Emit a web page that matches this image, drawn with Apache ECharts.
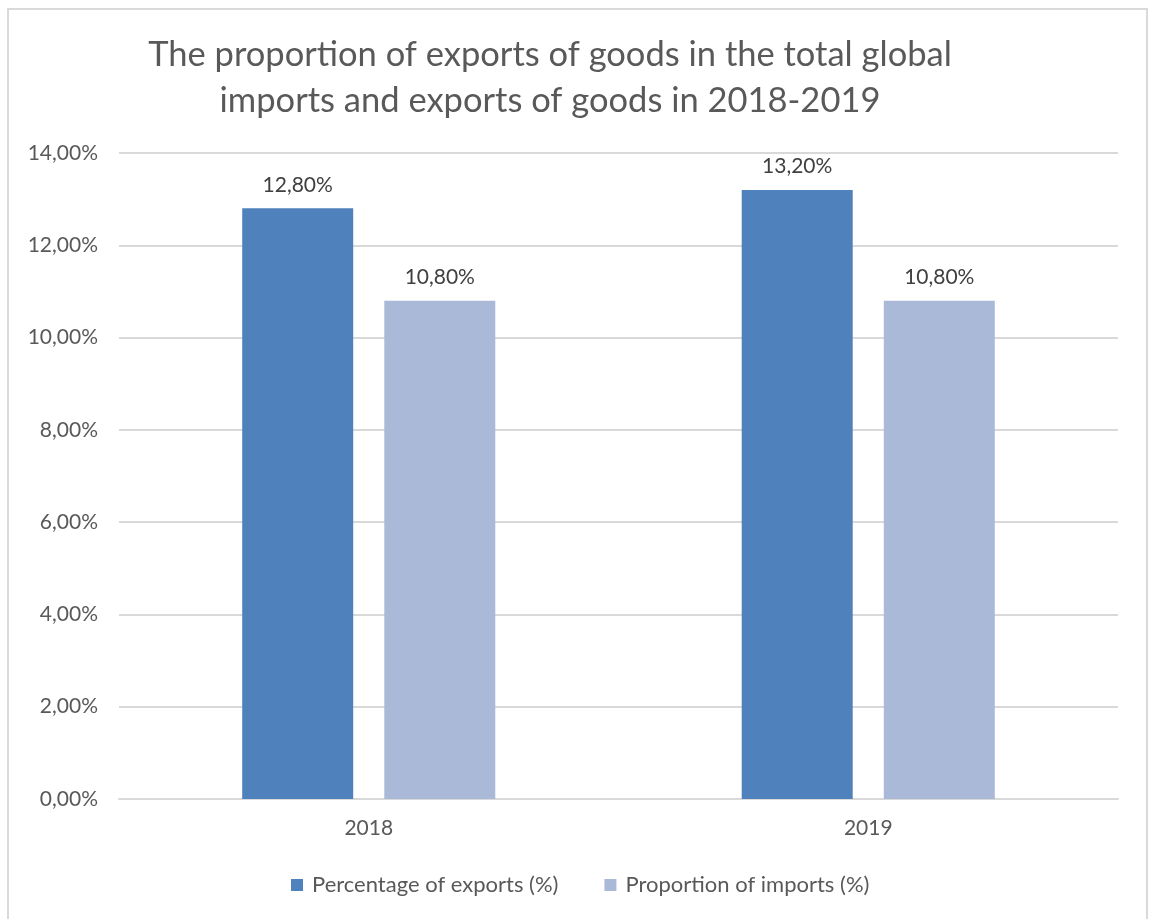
<!DOCTYPE html>
<html><head><meta charset="utf-8">
<script src="https://cdn.jsdelivr.net/npm/echarts@6/dist/echarts.min.js"></script>
<style>html,body{margin:0;padding:0;background:#fff}#c{width:1149px;height:919px}</style>
</head><body><div id="c"></div>
<script>
const categories = ['2018', '2019'];
const exportsPct = [12.8, 13.2];
const importsPct = [10.8, 10.8];
const seriesNames = ['Percentage of exports (%)', 'Proportion of imports (%)'];
const titleText = 'The proportion of exports of goods in the total global\nimports and exports of goods in 2018-2019';

const FONT = 'Lato, "Open Sans", sans-serif';
const fmt = v => v.toFixed(2).replace('.', ',') + '%';
const chart = echarts.init(document.getElementById('c'));
chart.setOption({
  animation: false,
  textStyle: { fontFamily: FONT },
  graphic: [{ type: 'rect', shape: { x: 8, y: 9, width: 1139, height: 920 }, style: { fill: 'none', stroke: '#d9d9d9', lineWidth: 2 }, silent: true }],
  title: { text: titleText, left: 545, top: 27, textAlign: 'center',
    textStyle: { fontFamily: FONT, fontSize: 34.5, fontWeight: 'normal', color: '#595959', lineHeight: 46 } },
  legend: { top: 869, left: 286, itemWidth: 12, itemHeight: 12, itemGap: 46, icon: 'rect',
    textStyle: { fontFamily: FONT, fontSize: 22, color: '#595959', padding: [0, 0, 0, 4] } },
  grid: { left: 119, right: 31, top: 153, bottom: 120 },
  xAxis: { type: 'category', data: categories,
    axisLine: { lineStyle: { color: '#d9d9d9', width: 2 } }, axisTick: { show: false },
    axisLabel: { fontSize: 21, color: '#595959', margin: 19, fontFamily: FONT } },
  yAxis: { type: 'value', min: 0, max: 14, interval: 2,
    axisLabel: { formatter: v => fmt(v), fontSize: 21, color: '#595959', margin: 21, fontFamily: FONT },
    splitLine: { lineStyle: { color: '#d9d9d9', width: 2 } }, axisLine: { show: false } },
  series: [
    { name: seriesNames[0], type: 'bar', data: exportsPct, barWidth: 111, barGap: '28%',
      itemStyle: { color: '#4f81bd' },
      label: { show: true, position: 'top', distance: 13, formatter: p => fmt(p.value), fontSize: 21, color: '#404040', fontFamily: FONT } },
    { name: seriesNames[1], type: 'bar', data: importsPct, barWidth: 111,
      itemStyle: { color: '#aab9d8' },
      label: { show: true, position: 'top', distance: 13, formatter: p => fmt(p.value), fontSize: 21, color: '#404040', fontFamily: FONT } }
  ]
});
</script></body></html>
